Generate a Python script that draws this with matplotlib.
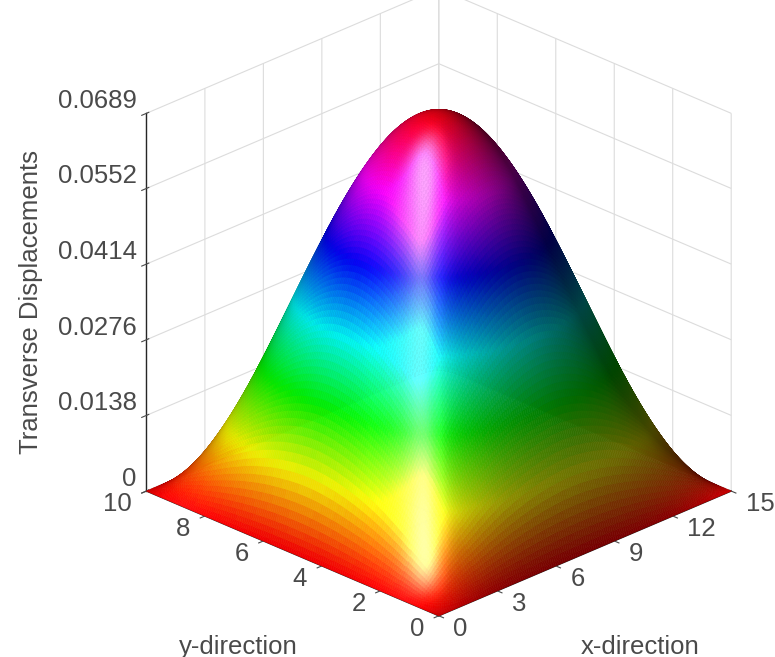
import numpy as np
import matplotlib
matplotlib.use("Agg")
import matplotlib.pyplot as plt

# ---- data ----
x_values = [0, 1.5, 3, 4.5, 6, 7.5, 9, 10.5, 12, 13.5, 15]
y_values = [0, 1, 2, 3, 4, 5, 6, 7, 8, 9, 10]
# transverse displacement in units of 1e-4
z_table = [
    [0, 0, 0, 0, 0, 0, 0, 0, 0, 0, 0],
    [0, 66, 125, 172, 202, 213, 202, 172, 125, 66, 0],
    [0, 125, 238, 328, 385, 405, 385, 328, 238, 125, 0],
    [0, 172, 328, 451, 530, 557, 530, 451, 328, 172, 0],
    [0, 202, 385, 530, 623, 655, 623, 530, 385, 202, 0],
    [0, 213, 405, 557, 655, 689, 655, 557, 405, 213, 0],
    [0, 202, 385, 530, 623, 655, 623, 530, 385, 202, 0],
    [0, 172, 328, 451, 530, 557, 530, 451, 328, 172, 0],
    [0, 125, 238, 328, 385, 405, 385, 328, 238, 125, 0],
    [0, 66, 125, 172, 202, 213, 202, 172, 125, 66, 0],
    [0, 0, 0, 0, 0, 0, 0, 0, 0, 0, 0],
]
x_ticks = [0, 3, 6, 9, 12, 15]
y_ticks = [0, 2, 4, 6, 8, 10]
z_ticks = [0, 0.0138, 0.0276, 0.0414, 0.0552, 0.0689]
z_ticklabels = ["0", "0.0138", "0.0276", "0.0414", "0.0552", "0.0689"]
x_label = "x-direction"
y_label = "y-direction"
z_label = "Transverse Displacements"

plt.rcParams["font.family"] = ["Liberation Sans", "DejaVu Sans"]
TEXT = "#4a4a4a"
FS = 18.5


def smooth(a, n, axis):
    """Display refinement of the mesh (like shading interp): passes through every value."""
    a = np.moveaxis(a, axis, 0)
    p = np.concatenate([a[:1], a, a[-1:]], axis=0)
    out = []
    for i in range(1, len(p) - 2):
        for t in np.arange(n) / n:
            out.append(0.5 * (2 * p[i] + (p[i + 1] - p[i - 1]) * t
                              + (2 * p[i - 1] - 5 * p[i] + 4 * p[i + 1] - p[i + 2]) * t ** 2
                              + (3 * p[i] - p[i - 1] - 3 * p[i + 1] + p[i + 2]) * t ** 3))
    out.append(p[-2])
    return np.moveaxis(np.array(out), 0, axis)


X0, Y0 = np.meshgrid(x_values, y_values)
Z0 = np.array(z_table, float) * 1e-4
N = 16
X = smooth(smooth(X0, N, 0), N, 1)
Y = smooth(smooth(Y0, N, 0), N, 1)
Z = np.clip(smooth(smooth(Z0, N, 0), N, 1), 0, None)
zmax = 0.0689

base = plt.get_cmap("hsv")(np.clip(Z / zmax, 0, 1))[..., :3]

# lighting in box coordinates
u = X / 15.0
v = Y / 10.0
w = Z / zmax
du_i, du_j = np.gradient(u)
dv_i, dv_j = np.gradient(v)
dw_i, dw_j = np.gradient(w)
n = np.cross(np.stack([du_j, dv_j, dw_j], -1), np.stack([du_i, dv_i, dw_i], -1))
n /= np.linalg.norm(n, axis=-1, keepdims=True)
if n[..., 2].mean() < 0:
    n = -n


def unit(a):
    a = np.array(a, float)
    return a / np.linalg.norm(a)


L1 = unit([-0.8, -0.1, 0.6])
H1 = unit([-0.68, -0.38, 0.60])
H2 = unit([-0.72, -0.50, 0.45])
diff = 0.22 + 0.12 * np.clip(n[..., 2], 0, 1) + 0.72 * np.clip((n * L1).sum(-1), 0, 1)
spec = 0.62 * np.clip((n * H1).sum(-1), 0, 1) ** 30 + 0.18 * np.clip((n * H2).sum(-1), 0, 1) ** 120
col = np.clip(base * diff[..., None] + spec[..., None], 0, 1)

fig = plt.figure(figsize=(7.75, 6.57), dpi=100)
S = 800
ax = fig.add_axes([(428 - S / 2) / 775, (344 - S / 2) / 657, S / 775, S / 657], projection="3d")
ax.set_proj_type("ortho")
ax.view_init(elev=25.25, azim=-135)
ax.set_box_aspect((1, 1, 1.01), zoom=0.872)
ax.plot_surface(X, Y, Z, facecolors=col, rcount=X.shape[0], ccount=X.shape[1],
                shade=False, linewidth=0.4, antialiased=True)
ax.set_xlim(0, 15)
ax.set_ylim(0, 10)
ax.set_zlim(0, zmax)
ax.set_xticks(x_ticks)
ax.set_yticks(y_ticks)
ax.set_zticks(z_ticks)
ax.set_zticklabels(z_ticklabels)
for a in (ax.xaxis, ax.yaxis, ax.zaxis):
    a.set_pane_color((1, 1, 1, 1))
    a.pane.set_edgecolor((1, 1, 1, 0))
    a.line.set_color("#262626")
    a.line.set_linewidth(1.0)
    a._axinfo["grid"]["color"] = "#dcdcdc"
    a._axinfo["grid"]["linewidth"] = 0.8
    a._axinfo["tick"]["color"] = "#262626"
ax.tick_params(labelsize=FS, colors=TEXT)
ax.tick_params(axis="x", pad=7)
ax.tick_params(axis="y", pad=7)
ax.tick_params(axis="z", pad=-3)
for t in ax.zaxis.get_ticklabels():
    t.set_ha("right")
    t.set_va("bottom")
for t in ax.xaxis.get_ticklabels():
    t.set_ha("left")
    t.set_va("bottom")
for t in ax.yaxis.get_ticklabels():
    t.set_ha("right")
    t.set_va("bottom")
for a in (ax.xaxis, ax.yaxis, ax.zaxis):
    a.set_rotate_label(False)
ax.set_xlabel(x_label, fontsize=FS, color=TEXT, rotation=0, labelpad=35)
ax.set_ylabel(y_label, fontsize=FS, color=TEXT, rotation=0, labelpad=35)
ax.set_zlabel(z_label, fontsize=FS, color=TEXT, rotation=90, labelpad=38)
fig.savefig("out.png", dpi=100)
